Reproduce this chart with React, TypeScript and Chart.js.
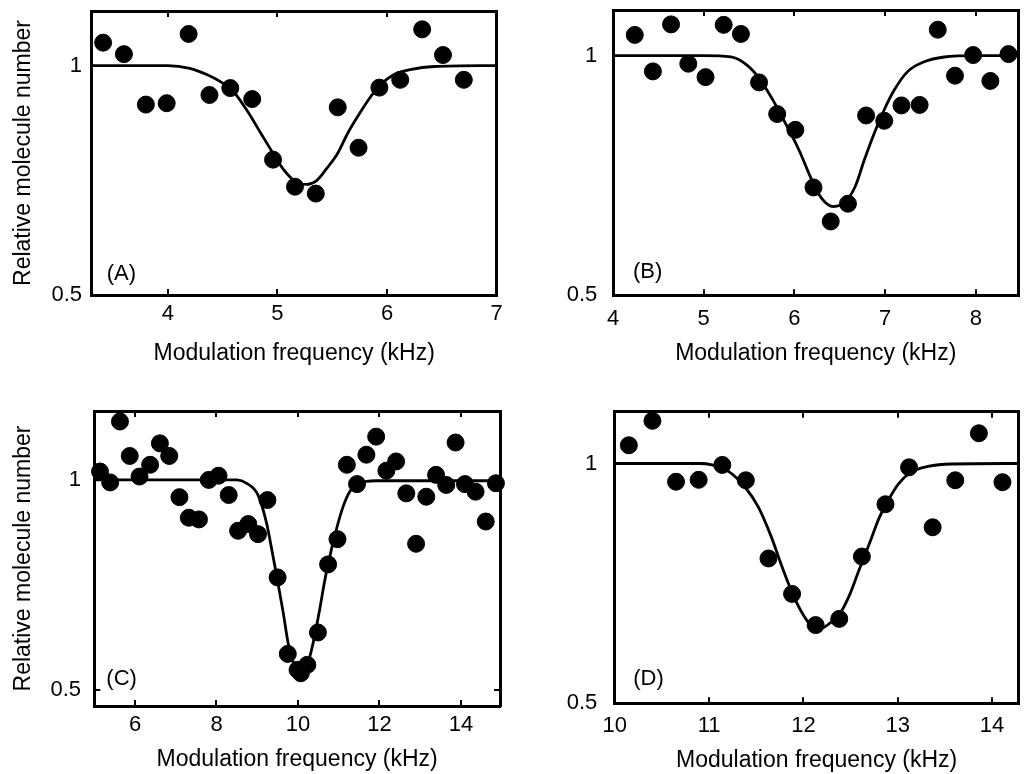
import React, { useEffect, useRef } from "react";
import { Chart, registerables } from "chart.js";

Chart.register(...registerables);

const FONT = '"Liberation Sans", Arial, Helvetica, sans-serif';
Chart.defaults.font.family = FONT;
Chart.defaults.color = "#000";

// ---------- Data ----------
// Panel A
const ptsAx = [3.41, 3.6, 3.8, 3.99, 4.19, 4.38, 4.57, 4.77, 4.96, 5.16, 5.35, 5.55, 5.74, 5.93, 6.12, 6.32, 6.51, 6.7];
const ptsAy = [1.05, 1.025, 0.915, 0.918, 1.069, 0.936, 0.951, 0.927, 0.795, 0.736, 0.721, 0.909, 0.821, 0.952, 0.969, 1.079, 1.023, 0.969];
const fitAx = [3.3, 4.0, 4.2, 4.36, 4.48, 4.6, 4.72, 4.85, 4.96, 5.06, 5.15, 5.26, 5.36, 5.45, 5.55, 5.64, 5.74, 5.85, 5.94, 6.06, 6.21, 6.43, 7.0];
const fitAy = [1.0, 1.0, 0.994, 0.98, 0.965, 0.943, 0.903, 0.852, 0.809, 0.772, 0.75, 0.741, 0.75, 0.776, 0.809, 0.852, 0.892, 0.932, 0.958, 0.98, 0.991, 0.998, 1.0];
const xTicksA = [4, 5, 6, 7];
const xRangeA = [3.306, 7.0];
const yRangeA = [0.5, 1.119];

// Panel B
const ptsBx = [4.24, 4.44, 4.64, 4.83, 5.02, 5.22, 5.41, 5.61, 5.81, 6.01, 6.21, 6.4, 6.59, 6.79, 6.99, 7.18, 7.38, 7.58, 7.77, 7.97, 8.16, 8.36];
const ptsBy = [1.043, 0.967, 1.065, 0.983, 0.955, 1.064, 1.045, 0.944, 0.878, 0.845, 0.725, 0.654, 0.691, 0.875, 0.864, 0.896, 0.897, 1.054, 0.958, 1.001, 0.947, 1.003];
const fitBx = [4.0, 5.0, 5.3, 5.47, 5.61, 5.76, 5.9, 6.05, 6.19, 6.3, 6.43, 6.56, 6.67, 6.77, 6.88, 6.99, 7.1, 7.25, 7.43, 7.65, 8.0, 8.47];
const fitBy = [1.0, 1.0, 0.997, 0.981, 0.953, 0.908, 0.859, 0.803, 0.741, 0.702, 0.685, 0.695, 0.727, 0.782, 0.838, 0.887, 0.928, 0.967, 0.987, 0.997, 1.0, 1.0];
const xTicksB = [4, 5, 6, 7, 8];
const xRangeB = [4.0, 8.47];
const yRangeB = [0.5, 1.095];

// Panel C
const ptsCx = [5.14, 5.39, 5.63, 5.87, 6.11, 6.37, 6.61, 6.84, 7.09, 7.32, 7.57, 7.81, 8.05, 8.3, 8.53, 8.78, 9.02, 9.25, 9.5, 9.75, 9.99, 10.07, 10.23, 10.49, 10.74, 10.97, 11.2, 11.45, 11.68, 11.92, 12.17, 12.41, 12.66, 12.9, 13.15, 13.39, 13.64, 13.87, 14.1, 14.36, 14.61, 14.86];
const ptsCy = [1.02, 0.994, 1.139, 1.057, 1.008, 1.036, 1.087, 1.057, 0.959, 0.91, 0.906, 1.0, 1.01, 0.964, 0.879, 0.895, 0.871, 0.952, 0.768, 0.586, 0.548, 0.54, 0.56, 0.637, 0.799, 0.859, 1.036, 0.99, 1.06, 1.103, 1.022, 1.044, 0.968, 0.848, 0.96, 1.012, 0.988, 1.089, 0.99, 0.972, 0.901, 0.992];
const fitCx = [5.0, 8.5, 8.74, 9.02, 9.23, 9.39, 9.51, 9.64, 9.76, 9.88, 10.04, 10.21, 10.37, 10.53, 10.66, 10.78, 10.94, 11.11, 11.27, 11.51, 11.92, 14.96];
const fitCy = [1.0, 1.0, 0.992, 0.964, 0.897, 0.817, 0.754, 0.683, 0.611, 0.567, 0.548, 0.556, 0.611, 0.69, 0.762, 0.817, 0.881, 0.937, 0.972, 0.992, 0.998, 0.998];
const xTicksC = [6, 8, 10, 12, 14];
const xRangeC = [5.0, 14.96];
const yRangeC = [0.462, 1.164];

// Panel D
const ptsDx = [10.15, 10.4, 10.65, 10.89, 11.14, 11.39, 11.63, 11.88, 12.13, 12.38, 12.62, 12.87, 13.12, 13.37, 13.61, 13.86, 14.11];
const ptsDy = [1.038, 1.089, 0.962, 0.966, 0.997, 0.965, 0.802, 0.728, 0.663, 0.676, 0.806, 0.915, 0.992, 0.867, 0.965, 1.063, 0.961];
const fitDx = [10.0, 10.9, 11.03, 11.21, 11.38, 11.52, 11.66, 11.76, 11.87, 11.97, 12.08, 12.18, 12.28, 12.39, 12.49, 12.59, 12.7, 12.8, 12.91, 13.01, 13.15, 13.32, 13.57, 14.28];
const fitDy = [1.0, 1.0, 0.997, 0.983, 0.951, 0.91, 0.847, 0.792, 0.736, 0.694, 0.663, 0.656, 0.667, 0.688, 0.726, 0.778, 0.833, 0.885, 0.927, 0.958, 0.983, 0.994, 0.999, 1.0];
const xTicksD = [10, 11, 12, 13, 14];
const xRangeD = [10.0, 14.28];
const yRangeD = [0.5, 1.108];

const yTicks = [0.5, 1];
const xTitle = "Modulation frequency (kHz)";
const yTitle = "Relative molecule number";

// ---------- Layout (positions / styles) ----------
const W = 514;
const H = 387;

type PanelCfg = {
  label: string;
  left: number;
  top: number;
  ptsX: number[];
  ptsY: number[];
  fitX: number[];
  fitY: number[];
  xTicks: number[];
  xRange: number[];
  yRange: number[];
  showYTitle: boolean;
  area: { l: number; t: number; r: number; b: number };
  xTickPad: number;
  yTickPad: number;
  xTitlePad: number;
  lab: { dx: number; dy: number };
};

const panels: PanelCfg[] = [
  {
    label: "(A)", left: 0, top: 0,
    ptsX: ptsAx, ptsY: ptsAy, fitX: fitAx, fitY: fitAy,
    xTicks: xTicksA, xRange: xRangeA, yRange: yRangeA, showYTitle: true,
    area: { l: 91.7, t: 11, r: 496.7, b: 295 },
    xTickPad: 11.3, yTickPad: 15.7, xTitlePad: 19.2, lab: { dx: 15, dy: 15 },
  },
  {
    label: "(B)", left: 514, top: 0,
    ptsX: ptsBx, ptsY: ptsBy, fitX: fitBx, fitY: fitBy,
    xTicks: xTicksB, xRange: xRangeB, yRange: yRangeB, showYTitle: false,
    area: { l: 99, t: 10, r: 509, b: 295.3 },
    xTickPad: 16.5, yTickPad: 21.7, xTitlePad: 19.2, lab: { dx: 20, dy: 17.3 },
  },
  {
    label: "(C)", left: 0, top: 387,
    ptsX: ptsCx, ptsY: ptsCy, fitX: fitCx, fitY: fitCy,
    xTicks: xTicksC, xRange: xRangeC, yRange: yRangeC, showYTitle: true,
    area: { l: 94.3, t: 24, r: 500, b: 319 },
    xTickPad: 11.8, yTickPad: 19.3, xTitlePad: 0.2, lab: { dx: 12, dy: 21 },
  },
  {
    label: "(D)", left: 514, top: 387,
    ptsX: ptsDx, ptsY: ptsDy, fitX: fitDx, fitY: fitDy,
    xTicks: xTicksD, xRange: xRangeD, yRange: yRangeD, showYTitle: false,
    area: { l: 100.7, t: 24.7, r: 512.3, b: 316.3 },
    xTickPad: 15.3, yTickPad: 23.4, xTitlePad: 0, lab: { dx: 18.5, dy: 18.3 },
  },
];

const TICK_LEN = -6;

const zeroPad = (s: any) => {
  s.paddingLeft = 0;
  s.paddingRight = 0;
  s.paddingTop = 0;
  s.paddingBottom = 0;
};

const panelLabelPlugin = {
  id: "panelLabel",
  afterDraw(chart: any, _args: any, opts: any) {
    const { ctx, chartArea } = chart;
    ctx.save();
    ctx.font = `22px ${FONT}`;
    ctx.fillStyle = "#000";
    ctx.textAlign = "left";
    ctx.textBaseline = "alphabetic";
    ctx.fillText(opts.text, chartArea.left + opts.dx, chartArea.bottom - opts.dy);
    ctx.restore();
  },
};

function Panel({ cfg }: { cfg: PanelCfg }) {
  const ref = useRef<HTMLCanvasElement | null>(null);

  useEffect(() => {
    if (!ref.current) return;
    const { area } = cfg;
    const xH = H - area.b;
    const padRight = W - area.r;
    const tickFont = { family: FONT, size: 22 };
    const titleFont = { family: FONT, size: 23 };
    const gridOpts = {
      drawOnChartArea: false,
      drawTicks: true,
      tickLength: TICK_LEN,
      color: "#000",
      lineWidth: 2,
    };
    const borderOpts = { display: true, color: "#000", width: 3 };
    const xTickSetter = (s: any) => {
      s.ticks = cfg.xTicks.map((v) => ({ value: v }));
    };
    const yTickSetter = (s: any) => {
      s.ticks = yTicks.map((v) => ({ value: v }));
    };

    const chart = new Chart(ref.current, {
      type: "scatter",
      data: {
        datasets: [
          {
            data: cfg.fitX.map((x, i) => ({ x, y: cfg.fitY[i] })),
            showLine: true,
            borderColor: "#000",
            borderWidth: 2.8,
            pointRadius: 0,
            cubicInterpolationMode: "monotone",
            fill: false,
            order: 1,
          } as any,
          {
            data: cfg.ptsX.map((x, i) => ({ x, y: cfg.ptsY[i] })),
            showLine: false,
            pointRadius: 8.5,
            pointBackgroundColor: "#000",
            pointBorderColor: "#000",
            pointBorderWidth: 1,
            clip: false,
            order: 0,
          } as any,
        ],
      },
      options: {
        animation: false,
        responsive: false,
        events: [],
        layout: { padding: { left: 0, top: area.t, right: padRight, bottom: 0 } },
        plugins: {
          legend: { display: false },
          tooltip: { enabled: false },
          panelLabel: { text: cfg.label, dx: cfg.lab.dx, dy: cfg.lab.dy },
        } as any,
        scales: {
          x: {
            type: "linear",
            position: "bottom",
            min: cfg.xRange[0],
            max: cfg.xRange[1],
            afterBuildTicks: xTickSetter,
            afterFit: (s: any) => {
              s.height = xH;
              zeroPad(s);
            },
            grid: gridOpts,
            border: borderOpts,
            ticks: {
              color: "#000",
              font: tickFont,
              padding: cfg.xTickPad,
              maxRotation: 0,
              autoSkip: false,
              callback: (v: any) => String(v),
            },
            title: {
              display: true,
              text: xTitle,
              color: "#000",
              font: titleFont,
              padding: { top: 0, bottom: cfg.xTitlePad },
            },
          },
          x2: {
            type: "linear",
            position: "top",
            min: cfg.xRange[0],
            max: cfg.xRange[1],
            afterBuildTicks: xTickSetter,
            afterFit: (s: any) => {
              s.height = 0;
              zeroPad(s);
            },
            grid: gridOpts,
            border: borderOpts,
            ticks: { display: false },
          },
          y: {
            type: "linear",
            position: "left",
            min: cfg.yRange[0],
            max: cfg.yRange[1],
            afterBuildTicks: yTickSetter,
            afterFit: (s: any) => {
              s.width = area.l;
              zeroPad(s);
            },
            grid: gridOpts,
            border: borderOpts,
            ticks: {
              color: "#000",
              font: tickFont,
              padding: cfg.yTickPad,
              autoSkip: false,
              callback: (v: any) => String(v),
            },
            title: {
              display: cfg.showYTitle,
              text: yTitle,
              color: "#000",
              font: titleFont,
              padding: { top: 9.7, bottom: 0 },
            },
          },
          y2: {
            type: "linear",
            position: "right",
            min: cfg.yRange[0],
            max: cfg.yRange[1],
            afterBuildTicks: yTickSetter,
            afterFit: (s: any) => {
              s.width = 0;
              zeroPad(s);
            },
            grid: gridOpts,
            border: borderOpts,
            ticks: { display: false },
          },
        } as any,
      },
      plugins: [panelLabelPlugin as any],
    });

    return () => {
      chart.destroy();
    };
  }, [cfg]);

  return (
    <canvas
      ref={ref}
      width={W}
      height={H}
      style={{
        position: "absolute",
        left: cfg.left,
        top: cfg.top,
        width: W,
        height: H,
      }}
    />
  );
}

export default function App() {
  return (
    <div
      style={{
        position: "absolute",
        left: 0,
        top: 0,
        width: 1028,
        height: 774,
        background: "#fff",
        overflow: "hidden",
      }}
    >
      {panels.map((p) => (
        <Panel key={p.label} cfg={p} />
      ))}
    </div>
  );
}
